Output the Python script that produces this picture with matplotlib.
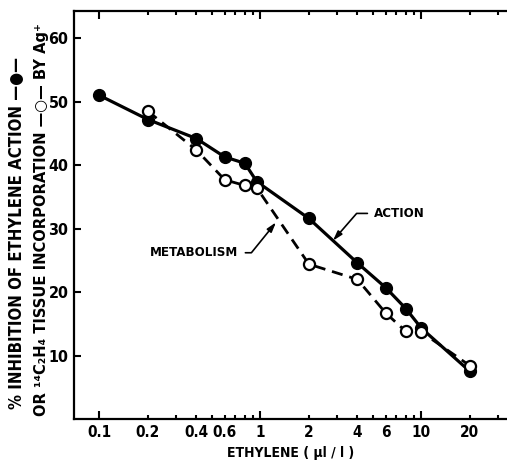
import matplotlib
matplotlib.use("Agg")
import matplotlib.pyplot as plt
from matplotlib.ticker import FixedLocator, FuncFormatter

plt.rcParams['font.family'] = ['DejaVu Sans']
plt.rcParams['font.weight'] = 'bold'
plt.rcParams['font.stretch'] = 'condensed'

# ---- data ----
action_x = [0.1, 0.2, 0.4, 0.6, 0.8, 0.95, 2, 4, 6, 8, 10, 20]
action_y = [51.0, 47.2, 44.2, 41.3, 40.3, 37.4, 31.6, 24.6, 20.7, 17.4, 14.3, 7.5]
metab_x = [0.2, 0.4, 0.6, 0.8, 0.95, 2, 4, 6, 8, 10, 20]
metab_y = [48.5, 42.4, 37.7, 36.8, 36.4, 24.4, 22.0, 16.7, 13.8, 13.7, 8.4]

x_major = [0.1, 1, 10]
x_minor = [0.2, 0.3, 0.4, 0.5, 0.6, 0.7, 0.8, 0.9,
           2, 3, 4, 5, 6, 7, 8, 9, 20, 30]
x_labels = {0.1: '0.1', 0.2: '0.2', 0.4: '0.4', 0.6: '0.6', 1: '1',
            2: '2', 4: '4', 6: '6', 10: '10', 20: '20'}
y_ticks = [10, 20, 30, 40, 50, 60]

ylabel1 = '% INHIBITION OF ETHYLENE ACTION \u2014\u25CF\u2014'
ylabel2 = 'OR \u00B9\u2074C\u2082H\u2084 TISSUE INCORPORATION \u2014\u25CB\u2014 BY Ag\u207A'
xlabel = 'ETHYLENE ( \u00B5l / l )'

# annotation anchors (data coords)
action_tip = (2.82, 28.1)
action_text = (5.1, 32.4)
metab_tip = (1.25, 31.0)
metab_text = (0.73, 26.2)

fig = plt.figure(figsize=(5.07, 4.62), dpi=100)
ax = fig.add_axes([74/507, 1-419/462, 1-74/507, (419-11)/462])

ax.plot(action_x, action_y, '-', color='black', lw=2.3,
        marker='o', ms=8.5, mfc='black', mec='black', zorder=3)
ax.plot(metab_x, metab_y, color='black', lw=2.0, ls=(0, (4, 2.5)),
        marker='o', ms=8, mfc='white', mec='black', mew=1.6, zorder=4)

ax.set_xscale('log')
ax.set_xlim(0.0695, 34)
ax.set_ylim(0, 64.3)

ax.xaxis.set_major_locator(FixedLocator(x_major))
ax.xaxis.set_minor_locator(FixedLocator(x_minor))
fmt = FuncFormatter(lambda v, p: next((s for k, s in x_labels.items() if abs(k - v) < 1e-9 * max(1, k)), ''))
ax.xaxis.set_major_formatter(fmt)
ax.xaxis.set_minor_formatter(fmt)
ax.set_yticks(y_ticks)

ax.tick_params(axis='x', which='both', direction='in', top=True, bottom=True,
               labelsize=11, pad=4, width=1.5)
ax.tick_params(axis='x', which='major', length=6)
ax.tick_params(axis='x', which='minor', length=3)
ax.tick_params(axis='y', which='major', direction='in', length=5, width=1.5,
               labelsize=11.5, pad=4)
for lab in ax.get_xticklabels(which='both') + ax.get_yticklabels():
    lab.set_fontweight('bold')

ax.spines['right'].set_visible(False)
for s in ['left', 'bottom', 'top']:
    ax.spines[s].set_linewidth(1.6)

ax.set_xlabel(xlabel, fontsize=10, fontweight='bold', labelpad=5)

fig.text(17/507, 1-233/462, ylabel1, rotation=90, ha='center', va='center',
         fontsize=12, fontweight='bold')
fig.text(42/507, 1-220/462, ylabel2, rotation=90, ha='center', va='center',
         fontsize=11.8, fontweight='bold')

ax.annotate('ACTION', xy=action_tip, xytext=action_text, ha='left', va='center',
            fontsize=9.5, fontweight='bold',
            arrowprops=dict(arrowstyle='-|>,head_length=0.6,head_width=0.18',
                            connectionstyle='angle,angleA=0,angleB=49,rad=0',
                            color='black', lw=1.2, relpos=(0, 0.5), shrinkA=3, shrinkB=0))
ax.annotate('METABOLISM', xy=metab_tip, xytext=metab_text, ha='right', va='center',
            fontsize=9.5, fontweight='bold',
            arrowprops=dict(arrowstyle='-|>,head_length=0.6,head_width=0.18',
                            connectionstyle='angle,angleA=0,angleB=51,rad=0',
                            color='black', lw=1.2, relpos=(1, 0.5), shrinkA=3, shrinkB=0))

fig.savefig('out.png', dpi=100)
